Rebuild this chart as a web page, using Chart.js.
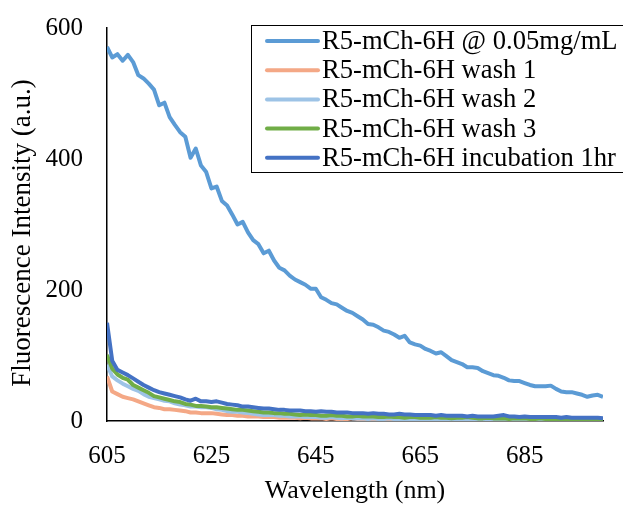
<!DOCTYPE html>
<html>
<head>
<meta charset="utf-8">
<script src="https://cdn.jsdelivr.net/npm/chart.js@4/dist/chart.umd.min.js"></script>
<style>
  html, body { margin: 0; padding: 0; background: #fff; }
  #wrap { width: 623px; height: 505px; }
</style>
</head>
<body>
<div id="wrap"><canvas id="spectraChart"></canvas></div>
<script>
const wavelengths = [
  605, 606, 607, 608, 609, 610, 611, 612, 613, 614, 615, 616, 617, 618, 619, 620,
  621, 622, 623, 624, 625, 626, 627, 628, 629, 630, 631, 632, 633, 634, 635, 636,
  637, 638, 639, 640, 641, 642, 643, 644, 645, 646, 647, 648, 649, 650, 651, 652,
  653, 654, 655, 656, 657, 658, 659, 660, 661, 662, 663, 664, 665, 666, 667, 668,
  669, 670, 671, 672, 673, 674, 675, 676, 677, 678, 679, 680, 681, 682, 683, 684,
  685, 686, 687, 688, 689, 690, 691, 692, 693, 694, 695, 696, 697, 698, 699, 700
];

const stock005 = [
  571, 555, 560, 550, 559, 548, 528, 523, 515, 506, 482, 486, 464, 452, 441, 434,
  402, 416, 390, 380, 355, 358, 336, 329, 315, 300, 304, 288, 276, 270, 256, 260,
  245, 234, 230, 222, 216, 212, 208, 202, 202, 189, 185, 180, 178, 173, 168, 165,
  160, 155, 148, 147, 143, 138, 136, 132, 127, 130, 120, 117, 115, 110, 107, 103,
  105, 99, 93, 90, 87, 82, 82, 81, 76, 73, 70, 69, 66, 62, 61, 61,
  58, 55, 53, 53, 53, 54, 49, 45, 44, 44, 42, 40, 37, 39, 40, 37
];

const wash1 = [
  68, 45, 41, 37, 35, 33, 30, 27, 24, 21, 20, 18, 18, 17, 16, 15,
  13, 13, 12, 12, 12, 11, 10, 9, 9, 8, 8, 7, 7, 7, 6, 6,
  6, 5, 5, 5, 5, 4, 5, 4, 4, 4, 3, 4, 3, 3, 3, 4,
  3, 3, 2, 3, 2, 3, 2, 2, 2, 3, 2, 2, 1, 2, 2, 1,
  2, 1, 1, 2, 1, 1, 2, 1, 1, 1, 2, 1, 1, 1, 0, 1,
  1, 1, 0, 1, 1, 0, 1, 1, 0, 1, 0, 1, 0, 0, 1, 0
];

const wash2 = [
  86, 68, 62, 57, 53, 49, 46, 41, 37, 35, 33, 31, 30, 27, 25, 24,
  22, 22, 21, 21, 20, 18, 17, 15, 14, 14, 13, 12, 11, 10, 9, 9,
  9, 8, 8, 7, 7, 7, 6, 6, 6, 5, 5, 6, 5, 4, 5, 4,
  4, 4, 3, 4, 3, 3, 4, 3, 3, 3, 2, 3, 2, 3, 2, 2,
  2, 3, 2, 2, 2, 1, 2, 2, 1, 2, 1, 1, 2, 1, 1, 1,
  2, 1, 1, 1, 1, 2, 1, 1, 1, 1, 1, 0, 1, 1, 0, 1
];

const wash3 = [
  101, 80, 71, 66, 63, 55, 51, 47, 43, 38, 36, 34, 32, 30, 29, 26,
  25, 23, 23, 22, 21, 21, 20, 19, 18, 17, 17, 16, 15, 14, 13, 13,
  12, 12, 11, 11, 10, 9, 10, 9, 9, 8, 8, 9, 8, 8, 7, 7,
  8, 7, 7, 7, 6, 6, 7, 6, 6, 5, 6, 6, 5, 5, 5, 6,
  5, 5, 4, 5, 5, 6, 5, 4, 4, 5, 4, 4, 4, 3, 4, 4,
  4, 3, 3, 4, 3, 3, 3, 3, 3, 2, 3, 3, 2, 3, 2, 2
];

const incubation1hr = [
  150, 92, 78, 74, 70, 65, 60, 55, 51, 47, 44, 42, 40, 38, 36, 33,
  31, 34, 30, 30, 29, 30, 28, 26, 25, 24, 22, 22, 21, 20, 19, 19,
  18, 17, 17, 16, 16, 16, 15, 15, 14, 15, 14, 14, 13, 13, 13, 12,
  12, 12, 11, 12, 11, 11, 10, 10, 11, 10, 10, 9, 9, 9, 9, 8,
  9, 8, 8, 8, 8, 7, 8, 7, 7, 7, 7, 8, 9, 7, 7, 6,
  7, 6, 6, 6, 6, 6, 6, 5, 6, 5, 5, 5, 5, 5, 5, 4
];

const seriesNames = [
  'R5-mCh-6H @ 0.05mg/mL',
  'R5-mCh-6H wash 1',
  'R5-mCh-6H wash 2',
  'R5-mCh-6H wash 3',
  'R5-mCh-6H incubation 1hr'
];

const xTicks = [605, 625, 645, 665, 685];
const yTicks = [0, 200, 400, 600];

const serif = "'Liberation Serif', 'Times New Roman', serif";
const toPoints = ys => wavelengths.map((x, i) => ({ x, y: ys[i] }));

const line = (label, ys, color, order) => ({
  label,
  data: toPoints(ys),
  borderColor: color,
  backgroundColor: color,
  borderWidth: 4,
  pointRadius: 0,
  tension: 0,
  borderJoinStyle: 'round',
  order
});

// Excel-style boxed legend sitting inside the plot area
const boxLegend = {
  id: 'boxLegend',
  afterDraw(chart) {
    const { ctx } = chart;
    const left = 251.5, top = 25.5, bottom = 172.5;
    ctx.save();
    ctx.fillStyle = '#fff';
    ctx.fillRect(left, top, 380, bottom - top);
    ctx.strokeStyle = '#000';
    ctx.lineWidth = 1;
    ctx.strokeRect(left, top, 380, bottom - top);

    ctx.font = `26.6px ${serif}`;
    ctx.textBaseline = 'middle';
    ctx.fillStyle = '#000';
    chart.data.datasets.forEach((ds, i) => {
      const y = 41 + i * 29.2;
      ctx.strokeStyle = ds.borderColor;
      ctx.lineWidth = 4;
      ctx.lineCap = 'round';
      ctx.beginPath();
      ctx.moveTo(267, y);
      ctx.lineTo(318, y);
      ctx.stroke();
      ctx.fillText(ds.label, 322, y + 1);
    });
    ctx.restore();
  }
};

// rotated y title, drawn by hand so it can sit a little below the axis middle
const yTitle = {
  id: 'yTitle',
  afterDraw(chart) {
    const { ctx } = chart;
    ctx.save();
    ctx.translate(23, 233);
    ctx.rotate(-Math.PI / 2);
    ctx.font = `27px ${serif}`;
    ctx.fillStyle = '#000';
    ctx.textAlign = 'center';
    ctx.textBaseline = 'middle';
    ctx.fillText('Fluorescence Intensity (a.u.)', 0, 0);
    ctx.restore();
  }
};

new Chart(document.getElementById('spectraChart'), {
  type: 'line',
  data: {
    datasets: [
      line(seriesNames[0], stock005, '#5B9BD5', 4),
      line(seriesNames[1], wash1, '#F4A886', 3),
      line(seriesNames[2], wash2, '#9DC3E6', 2),
      line(seriesNames[3], wash3, '#70AD47', 1),
      line(seriesNames[4], incubation1hr, '#4472C4', 0)
    ]
  },
  options: {
    responsive: true,
    maintainAspectRatio: false,
    animation: false,
    layout: { padding: { top: 28, right: 20, bottom: 0, left: 0 } },
    plugins: {
      legend: { display: false },
      tooltip: { enabled: false }
    },
    scales: {
      x: {
        type: 'linear',
        min: 605,
        max: 700,
        afterBuildTicks: s => { s.ticks = xTicks.map(value => ({ value })); },
        afterFit: s => { s.height = 84; s.paddingLeft = 0; s.paddingRight = 0; },
        grid: { display: false, drawTicks: false },
        border: { display: true, color: '#000', width: 1.5 },
        ticks: { color: '#000', padding: 20, maxRotation: 0, font: { family: serif, size: 25 } },
        title: {
          display: true,
          text: 'Wavelength (nm)',
          color: '#000',
          padding: { top: 0, bottom: -2 },
          font: { family: serif, size: 26 }
        }
      },
      y: {
        min: 0,
        max: 600,
        afterBuildTicks: s => { s.ticks = yTicks.map(value => ({ value })); },
        afterFit: s => { s.width = 107; s.paddingTop = 0; s.paddingBottom = 0; },
        grid: { display: false, drawTicks: false },
        border: { display: true, color: '#000', width: 1.5 },
        ticks: { color: '#000', padding: 24, font: { family: serif, size: 25 } }
      }
    }
  },
  plugins: [boxLegend, yTitle]
});
</script>
</body>
</html>
